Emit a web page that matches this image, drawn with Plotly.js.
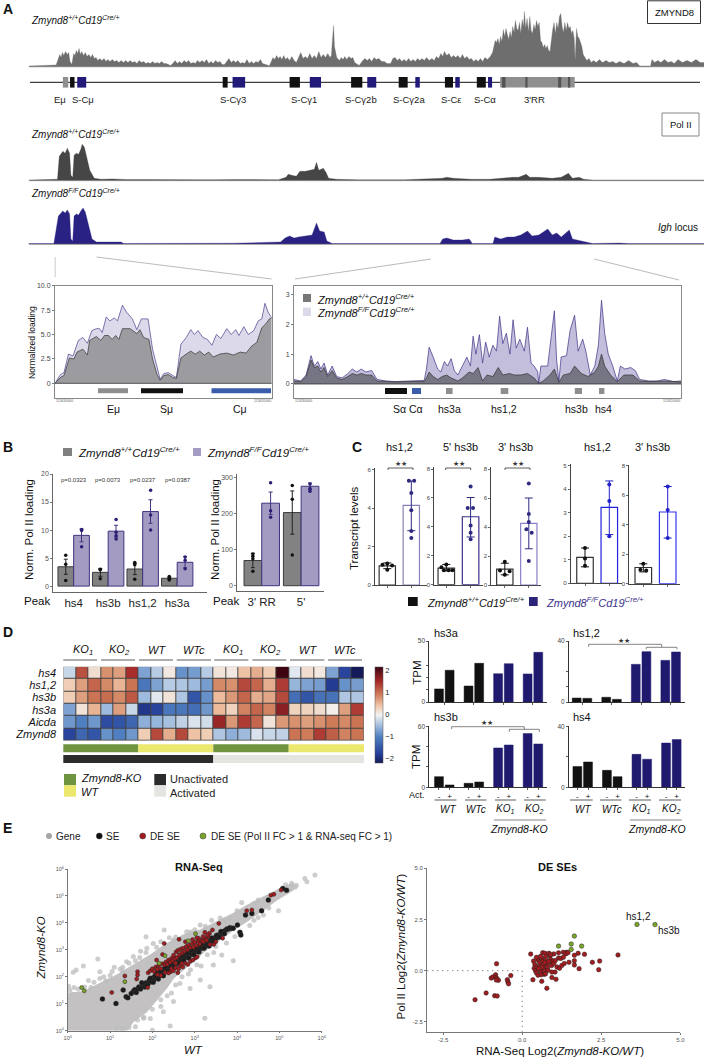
<!DOCTYPE html>
<html><head><meta charset="utf-8">
<script src="https://cdn.plot.ly/plotly-3.0.1.min.js"></script>
<style>html,body{margin:0;padding:0;background:#fff}#c{width:704px;height:1057px}</style>
</head><body><div id="c"></div>
<script>
// ---------- Panel A: browser tracks (position, height) ----------
const zmynd8Track=[[64,.5],[80,.8],[95,1],[110,1],[125,1.5],[130,8],[133,12],[136,9],[139,14],[142,11],[146,15],[150,12],[153,14],[156,5],[160,2],[164,13],[167,11],[170,16],[173,13],[176,18],[179,12],[182,15],[186,11],[190,14],[194,10],[198,12],[202,9],[206,12],[210,8],[214,9],[218,6],[222,8],[227,6],[232,8],[236,5],[240,7],[245,5],[250,7],[255,5],[260,6],[265,4],[270,6],[275,4],[280,6],[285,4],[290,6],[295,4],[300,5],[305,3],[310,6],[315,4],[320,5],[325,3],[330,4],[335,3],[340,5],[345,3],[350,4],[355,3],[360,5],[365,3],[370,3],[380,1],[385,3],[390,6],[395,3],[400,5],[405,3],[410,6],[415,4],[420,6],[425,3],[430,4],[435,3],[440,6],[445,4],[450,6],[455,4],[460,7],[465,3],[470,5],[475,3],[480,6],[485,4],[490,5],[495,2],[500,2],[505,5],[510,8],[515,4],[520,6],[525,4],[530,6],[535,3],[540,4],[545,3],[550,7],[555,3],[560,5],[565,3],[570,5],[575,4],[580,7],[585,3],[590,2],[600,.8],[608,9],[612,7],[616,11],[620,8],[624,10],[628,7],[632,11],[636,7],[640,9],[645,6],[650,10],[655,6],[660,4],[665,10],[670,14],[675,8],[680,10],[685,8],[690,13],[695,8],[700,11],[705,8],[710,15],[715,9],[720,12],[725,9],[730,13],[735,9],[738,11],[741,30],[743,41],[745,20],[750,9],[756,6],[760,9],[764,7],[768,10],[772,7],[777,10],[782,8],[786,9],[790,4],[800,1],[808,6],[813,8],[818,6],[823,8],[828,5],[833,9],[838,7],[844,8],[850,5],[856,5],[862,3],[870,3],[875,8],[880,9],[885,6],[890,8],[895,5],[900,7],[905,5],[910,8],[915,5],[920,7],[925,5],[930,8],[935,6],[940,8],[945,6],[950,9],[956,6],[962,8],[967,6],[972,10],[977,8],[982,13],[986,10],[990,15],[995,11],[1000,13],[1005,9],[1010,11],[1015,9],[1020,11],[1025,8],[1030,12],[1035,8],[1040,10],[1045,7],[1050,8],[1055,5],[1060,7],[1065,5],[1070,8],[1075,5],[1080,9],[1086,7],[1092,10],[1097,14],[1100,20],[1103,26],[1106,24],[1109,28],[1112,22],[1115,30],[1118,25],[1121,37],[1124,30],[1127,38],[1130,32],[1133,27],[1136,35],[1139,29],[1142,40],[1145,34],[1148,46],[1151,38],[1154,36],[1157,44],[1160,33],[1163,47],[1166,40],[1168,55],[1171,38],[1174,48],[1177,35],[1180,50],[1183,36],[1186,33],[1189,42],[1192,37],[1195,46],[1198,40],[1201,44],[1204,26],[1207,24],[1210,19],[1213,22],[1216,18],[1219,21],[1222,16],[1225,15],[1228,28],[1231,37],[1234,44],[1237,33],[1240,44],[1243,38],[1246,50],[1249,53],[1252,40],[1255,34],[1258,44],[1261,36],[1264,44],[1267,38],[1270,40],[1273,33],[1276,36],[1279,28],[1281,6],[1284,38],[1287,30],[1290,28],[1293,24],[1296,20],[1299,12],[1302,10],[1307,6],[1312,8],[1317,4],[1322,6],[1328,4],[1335,7],[1342,4],[1350,6],[1357,4],[1365,5],[1372,3],[1380,5],[1390,3],[1400,6],[1410,3],[1418,4],[1425,.6],[1449,.6],[1452,7],[1458,4],[1465,6],[1472,4],[1480,7],[1488,4],[1495,5],[1502,3],[1510,7],[1520,4],[1530,6],[1540,4],[1550,7],[1560,4],[1568,4]];
const polWtTrack=[[64,.3],[120,.3],[128,1],[132,24],[136,27],[140,29],[145,27],[150,32],[155,27],[158,5],[162,3],[165,25],[170,27],[175,26],[180,31],[183,36],[188,33],[193,22],[200,10],[210,2],[225,1],[250,1.4],[280,.8],[330,.7],[400,.4],[470,.6],[520,.8],[580,.6],[620,.6],[637,3],[642,6],[650,5],[660,4],[668,9],[680,9],[690,10],[700,11],[705,18],[710,10],[720,12],[726,8],[732,2],[750,1],[800,.5],[900,.5],[985,2],[995,3],[1010,2],[1050,1],[1090,1],[1110,2],[1140,3],[1155,3],[1172,6],[1180,3],[1200,3],[1230,2],[1250,3],[1266,7],[1275,2],[1290,3],[1300,1],[1320,.3],[1568,.3]];
const polKoTrack=[[64,.4],[120,.5],[130,28],[135,31],[140,33],[145,31],[150,34],[155,30],[158,5],[162,3],[165,28],[170,30],[175,29],[180,33],[185,36],[190,32],[197,20],[205,5],[215,2],[270,2],[275,.5],[330,.6],[430,.5],[520,.8],[625,2],[635,6],[645,8],[655,6],[665,7],[680,8],[695,9],[705,21],[712,13],[722,12],[728,3],[740,.5],[800,.4],[980,.5],[986,5],[995,6],[1010,4],[1030,4],[1045,5],[1052,.5],[1098,.5],[1102,7],[1115,5],[1130,7],[1145,7],[1160,9],[1175,13],[1185,8],[1200,9],[1220,15],[1230,9],[1240,11],[1250,7],[1268,14],[1275,5],[1285,4],[1300,2],[1320,.5],[1380,1],[1400,.4],[1568,.4]];
const geneBlack=[[156,166],[496,507],[645,668],[782,807],[888,908],[991,1009],[1062,1082]];
const geneBlue=[[172,192],[518,546],[690,715],[818,838],[925,935],[1014,1024],[1087,1096]];
const geneGrey=[[140,152],[1114,1280]];
const geneDark=[[1118,1126],[1170,1175],[1243,1250],[1265,1270]];
const geneLabels=['Eμ','S-Cμ','S-Cγ3','S-Cγ1','S-Cγ2b','S-Cγ2a','S-Cε','S-Cα',"3'RR"];
const geneLabelPos=[134,185,518,678,805,910,1005,1080,1190];
// zoomed Pol II profiles (position, normalized loading)
const euKo=[[123,0],[135,.9],[143,1.1],[153,3],[163,2.8],[175,4.4],[185,4.7],[195,4.1],[205,5.4],[215,5.6],[222,5.6],[228,5.2],[237,6.8],[245,6.4],[255,6.7],[262,6.4],[273,8],[282,7.3],[295,6.6],[305,5.5],[315,6.6],[330,6.6],[340,3.5],[350,1.5],[357,.4],[365,1],[375,1.1],[385,.8],[393,.6],[403,4],[415,4.7],[425,5.5],[433,5],[441,5.4],[452,4.7],[462,4.5],[472,3.9],[482,5],[492,4.6],[505,5.6],[515,5],[525,5.5],[532,4.9],[543,5.8],[553,5],[565,5.4],[575,6.4],[583,6.6],[590,8.2],[597,7.3],[605,6.7]];
const euWt=[[123,0],[135,.6],[143,.8],[155,2.6],[165,2.5],[172,3.2],[185,3.5],[195,2.9],[200,4.4],[215,4.8],[225,4.4],[233,4.9],[242,4.9],[250,4.5],[258,4.9],[265,4.5],[273,5.6],[290,5.6],[305,5.1],[312,5.5],[320,4.7],[332,4.5],[340,2.5],[350,.9],[357,.3],[365,.8],[375,.9],[385,.6],[393,.5],[403,2.6],[415,3],[425,3.3],[435,3],[445,3.3],[455,2.9],[465,3.2],[475,2.7],[490,3],[505,3.1],[520,2.9],[535,3.2],[548,3.1],[560,3.8],[572,4.2],[583,5.7],[592,6.1],[600,6.6],[605,6.7]];
const rrKo=[[655,.15],[670,.1],[682,.3],[688,.7],[693,.95],[700,.6],[708,.75],[715,.5],[722,.7],[730,.3],[740,.6],[750,.25],[762,.2],[775,.35],[785,.5],[795,.4],[805,.5],[815,.4],[828,.45],[840,.15],[860,.1],[880,.08],[900,.1],[920,.12],[945,.12],[950,.5],[956,1.23],[965,.9],[975,.5],[982,.4],[990,.75],[997,.6],[1005,.85],[1012,.45],[1020,.3],[1030,.6],[1040,.9],[1048,.6],[1054,1.6],[1060,1],[1068,1.65],[1075,.7],[1082,1.4],[1090,.9],[1098,1.3],[1106,1.1],[1113,2.27],[1120,1.35],[1128,1.7],[1136,1],[1143,2.15],[1150,1.2],[1158,1.5],[1168,1.1],[1175,1.9],[1183,.7],[1190,.6],[1198,.4],[1200,.02],[1205,.6],[1220,.6],[1228,1.6],[1235,2.45],[1240,.8],[1245,.1],[1250,.9],[1262,.95],[1270,1.8],[1280,2.3],[1288,1.1],[1298,1.5],[1305,1.1],[1315,.3],[1325,.6],[1333,1.3],[1340,2.8],[1347,1.7],[1355,1],[1365,.6],[1375,.1],[1382,.6],[1392,.5],[1405,.55],[1415,.45],[1425,.15],[1445,.1],[1465,.1],[1480,.15],[1500,.08],[1517,.1]];
const rrWt=[[655,.1],[670,.08],[682,.25],[688,.6],[693,.8],[700,.55],[708,.6],[715,.4],[722,.55],[730,.25],[740,.45],[750,.2],[762,.15],[775,.25],[785,.35],[795,.3],[805,.35],[815,.3],[828,.3],[840,.1],[860,.08],[880,.07],[900,.08],[920,.08],[945,.08],[950,.2],[956,.4],[965,.25],[975,.15],[985,.25],[995,.3],[1005,.2],[1020,.1],[1030,.2],[1045,.4],[1054,.35],[1065,.55],[1075,.1],[1085,.3],[1098,.25],[1110,.55],[1120,.3],[1135,.35],[1145,.3],[1160,.3],[1175,.35],[1190,.2],[1200,.02],[1210,.1],[1225,.3],[1235,.5],[1245,.05],[1255,.3],[1270,.35],[1280,.6],[1295,.35],[1310,.25],[1325,.4],[1333,.6],[1340,1],[1347,.6],[1360,.3],[1375,.08],[1390,.3],[1410,.3],[1425,.1],[1450,.08],[1480,.1],[1517,.07]];
// ---------- Panel B ----------
const bPeaks=['hs4','hs3b','hs1,2','hs3a'];
const bWt=[3.45,2.45,3.05,1.4], bWtErr=[1.35,.7,1,.2];
const bKo=[9.05,9.8,13.3,4.25], bKoErr=[1.15,1.05,2.1,1];
const bWtPts=[[0,5.5],[0,3.9],[0,1],[1,3],[1,2.9],[1,1.3],[2,4.2],[2,3.8],[2,1.2],[3,1.7],[3,1.4],[3,1.1]];
const bKoPts=[[0,10.1],[0,9.9],[0,7],[1,11.9],[1,9.6],[1,9],[1,8.4],[2,17.1],[2,12.7],[2,10],[3,5.2],[3,4.6],[3,3.1]];
const bP=['p=0.0323','p=0.0073','p=0.0237','p=0.0387'];
const b2Peaks=["3' RR","5'"];
const b2Wt=[70,203], b2WtErr=[20,60], b2Ko=[229,276], b2KoErr=[31,9];
const b2WtPts=[[0,88],[0,82],[0,75],[0,40],[1,278],[1,240],[1,85]];
const b2KoPts=[[0,286],[0,208],[0,190],[1,282],[1,270],[1,262]];
// ---------- Panel C: wt, err up/down, points, ko, err up/down, points ----------
const c1Wt=[1,.15,.15], c1WtPts=[[-.2,1.05],[0,1.12],[.2,1.02],[0,.8]];
const c1Ko=[4.15,1.27,1.32], c1KoPts=[[-.1,5.44],[.12,5.44],[0,4.8],[0,3.9],[0,2.82],[0,2.45]];
const c2Wt=[1.15,.25,.2], c2WtPts=[[0,1.4],[-.2,1.2],[-.1,1],[.1,1],[.25,1]];
const c2Ko=[4.7,1.33,1.4], c2KoPts=[[0,6.8],[-.12,5.3],[.1,5.3],[0,4.1],[0,3.6],[0,3.15]];
const c3Wt=[1.1,.4,.4], c3WtPts=[[0,1.6],[-.2,1],[.2,.95],[0,.7]];
const c3Ko=[4.25,1.75,1.75], c3KoPts=[[0,7],[0,4.9],[0,4.35],[-.1,3.85],[.12,3.6],[0,1.65]];
const c4Wt=[1.1,.4,.4], c4WtPts=[[0,1.5],[0,1.05],[0,.75]];
const c4Ko=[3.23,1.12,1.16], c4KoPts=[[0,4.2],[0,3.5],[0,2]];
const c5Wt=[1.1,.25,.3], c5WtPts=[[0,1.35],[-.12,.95],[.12,.9]];
const c5Ko=[4.87,1.73,1.77], c5KoPts=[[0,6.6],[0,5],[0,3.1]];
// ---------- Panel D ----------
const hmRows=['hs4','hs1,2','hs3b','hs3a','Aicda','Zmynd8'];
const hmZ=[
[-.25,1.25,.2,.8,.7,1.5,-.7,-.35,.1,-.85,-.75,-.35,.15,.1,.45,.6,.35,2.3,-.1,.2,.1,-.7,-1.7,-2.3],
[.35,.7,1.1,.85,.55,1,-1.1,-.7,-.35,-.4,-.5,-.75,.85,.8,1.3,1.1,.6,1.4,-.55,-.7,-.75,-1.8,-.85,-.75],
[.35,.7,1,1.05,.85,1.2,-.5,-.1,.15,-.4,-1.5,-.85,.5,.75,1.1,.6,.65,1.3,-1.2,-1.5,-1.15,-1.15,-.4,-.4],
[-.7,.15,.55,-.5,.7,-.25,-1.85,-1.7,-1.1,-1.1,-1.2,-.8,.5,.3,.9,1.1,.9,1.7,.3,.3,.2,.05,.7,1.4],
[-.8,-1,-.8,-1.6,-1.5,-1.3,-.6,-.55,-.45,-.3,-.15,-.2,1.6,.75,1.4,1.1,.15,.75,.8,.7,.8,.95,.85,1],
[-1.7,-1.3,-1.5,-.85,-1,-.8,.35,1.3,.6,1.3,.45,.35,-.4,-.6,-.5,-.15,-.25,-.3,1,.95,1.4,1.15,.9,1]];
const hmGroups=['KO<sub>1</sub>','KO<sub>2</sub>','WT','WTc','KO<sub>1</sub>','KO<sub>2</sub>','WT','WTc'];
const dGroups=['WT','WTc','KO<sub>1</sub>','KO<sub>2</sub>'];
const hs3aMinus=[10.7,13.1,23.2,23], hs3aPlus=[26,31.7,31.4,40.7];
const hs12Minus=[2.6,3.1,24.7,27.3], hs12Plus=[2.4,1.75,33,32.8];
const hs3bMinus=[10.5,3.9,38.7,52.8], hs3bPlus=[2.3,5.2,41.6,42.6];
const hs4Minus=[13.6,11.1,21.6,29], hs4Plus=[16.6,7,18.4,31.3];
// ---------- Panel E: log10 values ----------
const geneCloud=[[0,0],[0,1.39],[.37,1.45],[.76,1.76],[1.16,2.07],[1.55,2.44],[1.95,2.81],[2.34,3.24],[2.74,3.56],[3.13,3.74],[3.52,4.05],[3.92,4.36],[4.31,4.72],[4.7,5.03],[5.1,5.34],[5.33,5.47],[5.33,5.22],[4.94,4.85],[4.63,4.48],[4.23,4.05],[3.92,3.74],[3.6,3.37],[3.28,3],[2.97,2.57],[2.74,2.26],[2.5,1.95],[2.34,1.58],[2.1,1.14],[1.87,.7],[1.55,.33],[1.39,0]];
const genePts=[[5.84,5.78],[5.6,5.65],[5.65,5.53],[5.37,5.32],[5.29,5.47],[4.11,4.76],[4.98,4.45],[3.91,2.6],[2.28,3.74],[1.85,3.49],[1.55,2.75],[.71,2.66],[.37,2.4],[.2,2.25],[.13,2.17],[1.1,2.35],[1.24,2.29],[1.39,2.56],[.76,1.94],[.49,1.86],[3.24,.46],[2.42,.17],[2,.02],[1.16,.09],[3.36,1.63],[3.13,1.88],[2.5,1.08],[2.89,1.57],[2.26,.7],[1.79,.46],[3.64,2.81],[3.44,2.44],[4.62,4.29],[.76,2.19],[1.87,3.06],[2.02,3.24],[2.5,3.37],[2.81,3.67],[3.13,3.92],[3.83,4.17],[4.15,4.42],[1.6,2.6],[1.72,2.95],[1.3,2.2],[1,2.05],[.55,1.6],[.25,1.55],[.05,1.5],[.02,1.65],[.9,1.85],[2.4,3.45],[3,3.75],[3.4,4.1],[3.7,4.1],[4.4,4.72],[4.85,5.05],[5.15,5.42],[5.4,5.4],[4.75,4.55],[4.4,4.1],[4.05,3.65],[3.75,3.25],[3.45,2.9],[3.15,2.4],[2.85,2.1],[2.65,1.75],[2.45,1.4],[2.2,.9],[1.95,.45],[1.6,.15],[.15,1.6],[.4,1.62],[.62,1.8],[.85,2],[1.05,2.2],[1.3,2.35],[1.45,2.5],[1.7,2.72],[1.85,2.9],[2.1,3.1],[2.2,3.3],[2.55,3.48],[2.9,3.66],[3.25,3.88],[3.6,4.18],[4,4.45],[4.5,4.85],[3.5,3.12],[3.3,2.82],[3.05,2.45],[2.9,2.25],[2.7,2],[2.55,1.7],[2.35,1.3],[2.2,1.15],[2,.8],[1.8,.5],[1.65,.4],[1.45,.12],[1.3,.08],[4.5,4.2],[4.3,3.9],[3.95,3.5]];
const sePts=[[.82,1.18],[1.14,1.01],[1.31,1.51],[1.38,1.26],[1.42,1.22],[1.55,1.45],[1.5,1.38],[1.58,1.52],[1.62,1.42],[1.65,1.55],[1.68,1.62],[1.72,1.55],[1.78,1.7],[1.82,1.62],[1.85,1.78],[1.9,1.74],[1.93,1.88],[1.97,1.82],[2,1.95],[2.03,1.88],[2.06,2.03],[2.1,1.97],[2.12,2.1],[2.16,2.04],[2.18,2.18],[2.22,2.12],[2.25,2.26],[2.28,2.18],[2.3,2.32],[2.33,2.25],[2.36,2.38],[2.38,2.3],[2.4,2.44],[2.43,2.36],[2.46,2.5],[2.48,2.42],[2.5,2.55],[2.53,2.47],[2.56,2.6],[2.58,2.52],[2.6,2.65],[2.63,2.58],[2.66,2.7],[2.68,2.62],[2.7,2.76],[2.73,2.67],[2.76,2.8],[2.78,2.72],[2.8,2.84],[2.83,2.76],[2.86,2.9],[2.88,2.8],[2.9,2.94],[2.93,2.85],[2.96,2.98],[2.98,2.9],[3,3.02],[3.03,2.95],[3.06,3.06],[3.08,2.98],[3.1,3.12],[3.13,3.04],[3.16,3.14],[3.18,3.08],[3.2,3.2],[3.23,3.12],[3.26,3.24],[3.28,3.17],[3.3,3.28],[3.33,3.22],[3.36,3.33],[3.38,3.28],[3.4,3.38],[3.43,3.34],[3.46,3.43],[3.48,3.4],[3.5,3.48],[3.53,3.46],[3.56,3.54],[3.6,3.58],[3.64,3.62],[3.68,3.68],[3.72,3.72],[3.76,3.77],[3.8,3.77],[3.83,3.82],[3.87,3.8],[4.01,3.92],[3.91,3.8],[4.07,3.65],[4.09,3.55],[4.2,4.29],[4.35,4.35],[4.58,4.45],[4.74,4.85],[5.08,5.28],[5.17,5.21],[1.75,1.78],[1.87,1.68],[1.95,1.95],[2.02,1.8],[2.1,2.14],[2.14,1.92],[2.2,2.24],[2.26,2.04],[2.32,2.38],[2.38,2.2],[2.44,2.5],[2.5,2.34],[2.56,2.66],[2.62,2.48],[2.68,2.78],[2.74,2.6],[2.8,2.9],[2.86,2.7],[2.92,3],[2.98,2.82],[3.04,3.1],[3.1,2.92],[3.16,3.22],[3.22,3.06],[3.28,3.34],[3.34,3.14],[3.4,3.44],[3.46,3.32],[3.52,3.54],[3.58,3.48],[3.62,3.68],[3.7,3.6]];
const deSePts=[[1.04,1.42],[1.35,2.03],[1.65,2.19],[1.65,2.07],[1.63,1.92],[1.89,1.6],[2.28,3.24],[2.24,2.83],[2.1,2.62],[2.63,3.39],[3.57,3.98],[3.42,3.74],[3.24,3.65],[4.23,4.45],[4.35,4.48],[4.8,5.03],[4.87,5.06],[5.04,5.22],[3.66,3.43],[2.6,2.15],[2.43,2.19],[1.9,2.15],[1.95,2.22],[2,2.3],[2.04,2.2],[2.08,2.36],[2.12,2.28],[2.15,2.42],[2.2,2.3],[2.24,2.48],[2.28,2.44],[2.32,2.55],[2.35,2.46],[2.38,2.62],[2.42,2.54],[2.45,2.68],[2.48,2.6],[2.5,2.8],[2.53,2.66],[2.56,2.92],[2.58,2.72],[2.6,2.98],[2.64,2.82],[2.66,3.02],[2.7,2.88],[2.72,3.06],[2.76,2.95],[2.8,3.12],[2.83,3],[2.86,3.18],[2.9,3.08],[2.94,3.24],[2.97,3.1],[3,3.28],[3.04,3.16],[3.08,3.32],[3.12,3.22],[3.16,3.36],[3.2,3.3],[3.24,3.42],[3.28,3.36],[3.32,3.5],[3.1,3.42],[2.95,3.38],[2.3,2.16],[2.38,2.14],[2.45,2.3],[2.5,2.22],[2.55,2.34],[2.62,2.3],[2.66,2.42],[2.72,2.36],[2.78,2.5],[2.84,2.46],[2.9,2.58],[2.96,2.62],[3.02,2.7],[3.06,2.74],[2.7,2.5],[2.55,2.5],[2.2,2.05],[2.12,2.08],[3.36,3.2],[3.45,3.2],[3.5,3.3],[3.2,3.5],[3.35,3.62],[3.3,3.55],[3.05,3.45],[2.78,3.3]];
const deSeGreen=[[.33,1.6],[.39,1.48],[1.35,1.82],[2.16,2.5],[2.3,2.78],[2.85,3.34],[3.02,3.6]];
const dsRed=[[-1.49,-1.42],[-1.14,-1.09],[-.87,-1.22],[-.79,-1.24],[-.81,.34],[-.84,-.2],[-.98,-.36],[-.93,-.31],[-.84,-.33],[-.8,-.38],[-.75,-.47],[-.82,-.46],[-.47,-.44],[-.45,-.55],[-.43,-.64],[-.36,-.24],[.27,.81],[.34,-.44],[.62,-.52],[.78,-.86],[.94,-.33],[1.07,-.42],[1.04,-.07],[.94,-.07],[1.8,.1],[2.22,.41],[2.45,.47],[2.42,.05],[3.03,.77],[1.97,.8],[1.77,.85],[1.65,.75],[1.65,.49],[1.65,.28],[1.48,.41],[1.41,.9],[.36,.47],[.4,.3],[.38,.12],[.42,0],[.45,-.1],[.5,-.22],[.47,.18],[.5,.52],[.55,.4],[.55,.22],[.57,.05],[.6,-.05],[.6,-.2],[.63,.6],[.65,.45],[.66,.28],[.68,.12],[.7,-.02],[.7,-.18],[.65,.88],[.72,.85],[.75,.7],[.76,.5],[.78,.32],[.8,.18],[.82,.02],[.74,-.15],[.85,.85],[.88,.72],[.9,.55],[.92,.4],[.93,.25],[.97,.48],[1,.82],[1,.35],[1.05,.5],[1.1,.18],[1.15,.62],[1.15,.87],[1.18,.12],[1.22,.6],[1.25,.25],[1.3,.65],[1.3,.9],[1.33,.35],[1.38,.82],[1.45,.88],[.9,.78],[.58,.7],[.45,.65],[.62,.15],[.52,.1],[.72,.4],[.84,.45]];
const dsGreen=[[1.15,1.2],[1.55,1.3],[1.55,1.04],[1.88,1.2],[1.65,1.69],[3.63,2.26],[4.2,2.25]];

// ---------- helpers ----------
const W=704,H=1057,FONT='Liberation Sans, Arial, sans-serif';
const fx=v=>v/W, fy=v=>1-v/H;
const traces=[],shapes=[],annotations=[];
const layout={width:W,height:H,margin:{l:0,r:0,t:0,b:0,pad:0},paper_bgcolor:'#fff',plot_bgcolor:'rgba(0,0,0,0)',
  showlegend:false,barmode:'overlay',font:{family:FONT,color:'#111'},shapes,annotations};
let n=0;
function panel(x0,x1,yT,yB,xo,yo){n++;const s=n===1?'':n;
  const base={showgrid:false,zeroline:false,showline:true,linecolor:'#555',linewidth:1,ticks:'outside',ticklen:2,tickwidth:.8,tickcolor:'#555',tickfont:{size:6,color:'#555',family:FONT},fixedrange:true};
  layout['xaxis'+s]=Object.assign({},base,{domain:[fx(x0),fx(x1)],anchor:'y'+s},xo);
  layout['yaxis'+s]=Object.assign({},base,{domain:[fy(yB),fy(yT)],anchor:'x'+s},yo);
  return {x:'x'+s,y:'y'+s};}
function T(text,x,y,size,o={}){annotations.push({text,x:fx(x),y:fy(y),xref:'paper',yref:'paper',showarrow:false,
  xanchor:o.a||'left',yanchor:'middle',textangle:o.r||0,font:{size,color:o.c||'#111',family:FONT},borderpad:0});}
function R(x0,y0,x1,y1,fill,line,w){shapes.push({type:'rect',xref:'paper',yref:'paper',x0:fx(x0),x1:fx(x1),y0:fy(y0),y1:fy(y1),fillcolor:fill||'rgba(0,0,0,0)',line:{color:line||'rgba(0,0,0,0)',width:line?(w||1):0}});}
function L(x0,y0,x1,y1,c,w){shapes.push({type:'line',xref:'paper',yref:'paper',x0:fx(x0),x1:fx(x1),y0:fy(y0),y1:fy(y1),line:{color:c||'#333',width:w||1}});}
const X=a=>a.map(p=>p[0]), Y=a=>a.map(p=>p[1]);
const wtLabel='<i>Zmynd8<sup>+/+</sup>Cd19<sup>Cre/+</sup></i>', koLabel='<i>Zmynd8<sup>F/F</sup>Cd19<sup>Cre/+</sup></i>';
const HID={visible:false};

// ---------- Panel A ----------
T('<b>A</b>',2,9,14);
function track(data,yBase,color,maxH){const a=panel(0,W,yBase-maxH,yBase,Object.assign({range:[0,1568]},HID),Object.assign({range:[0,maxH]},HID));
  traces.push({type:'scatter',mode:'lines',x:X(data),y:Y(data),xaxis:a.x,yaxis:a.y,fill:'tozeroy',fillcolor:color,line:{color,width:.3}});return a;}
const t1=track(zmynd8Track,66.5,'#6e6e6e',60);
track(polWtTrack,180.3,'#464646',40);
track(polKoTrack,244,'#2a2282',40);
L(29,66.7,704,66.7,'#555',.8);L(29,180.6,704,180.6,'#555',.8);L(29,244.3,704,244.3,'#777',.8);
T(wtLabel,30,20,10);T(wtLabel,30,134,10);T(koLabel,30,193,10);
R(647.5,.8,700.5,23.5,'#fff','#333',1);T('ZMYND8',674,12,9.5,{a:'center'});
R(662,113,699,136,'#fff','#888',1);T('Pol II',680.5,125,9.5,{a:'center'});
T('<i>Igh</i> locus',699,227,10,{a:'right'});
L(30,82.3,700,82.3,'#111',1);
function gene(list,fill){list.forEach(g=>shapes.push({type:'rect',xref:t1.x,yref:'paper',x0:g[0],x1:g[1],y0:fy(77),y1:fy(87.6),fillcolor:fill,line:{width:0}}));}
gene(geneGrey,'#8f8f8f');gene(geneDark,'#555');gene(geneBlack,'#111');gene(geneBlue,'#221a78');
geneLabels.forEach((s,i)=>T(s,geneLabelPos[i]/2.227,99,9.5,{a:'center',c:'#222'}));
L(55.2,257,55.2,277,'#ccc',1);L(96.5,257,271.7,279,'#bbb',1);L(295,279,431,259,'#bbb',1);L(594,259,679,280,'#bbb',1);

// zoomed left
const zl=panel(55,271.7,285.7,398,{range:[123,605],showticklabels:false,ticks:'',mirror:true,linecolor:'#888'},
  {range:[-1.5,10],tickvals:[0,2.5,5,7.5,10],ticktext:['0','2.5','5.0','7.5','10.0'],tickfont:{size:7,color:'#444',family:FONT},mirror:true,linecolor:'#888'});
const zr=panel(294,681,285.7,398,{range:[655,1517],showticklabels:false,ticks:'',mirror:true,linecolor:'#888'},
  {range:[-.47,3.29],tickvals:[0,1,2,3],tickfont:{size:7,color:'#444',family:FONT},mirror:true,linecolor:'#888'});
traces.push({type:'scatter',mode:'lines',x:X(euKo),y:Y(euKo),xaxis:zl.x,yaxis:zl.y,fill:'tozeroy',fillcolor:'#dcdaea',line:{color:'#4a3f8f',width:.7}});
traces.push({type:'scatter',mode:'lines',x:X(euWt),y:Y(euWt),xaxis:zl.x,yaxis:zl.y,fill:'tozeroy',fillcolor:'#9c9ca0',line:{color:'#333',width:.7}});
traces.push({type:'scatter',mode:'lines',x:X(rrKo),y:Y(rrKo),xaxis:zr.x,yaxis:zr.y,fill:'tozeroy',fillcolor:'#c3bedb',line:{color:'#3d3286',width:.7}});
traces.push({type:'scatter',mode:'lines',x:X(rrWt),y:Y(rrWt),xaxis:zr.x,yaxis:zr.y,fill:'tozeroy',fillcolor:'rgba(105,105,115,.85)',line:{color:'#333',width:.7}});
L(55,383.3,271.7,383.3,'#333',.8);L(294,384,681,384,'#333',.8);
[[98,128,'#8e8e8e'],[141,183,'#111'],[211.5,271,'#3b5cab']].forEach(b=>R(b[0],388.2,b[1],393.2,b[2]));
[[385,407,'#111'],[412,421,'#3b5cab'],[446,452.6,'#8e8e8e'],[500.7,508.3,'#8e8e8e'],[574.8,582,'#8e8e8e'],[599,604.4,'#8e8e8e']].forEach(b=>R(b[0],388,b[1],394,b[2]));
[['Eμ',113.6],['Sμ',166],['Cμ',240],['Sα',399],['Cα',416],['hs3a',449],['hs1,2',504],['hs3b',576],['hs4',603]].forEach(a=>T(a[0],a[1],409,10.5,{a:'center'}));
T('113430000',55,401,3.5,{c:'#666'});T('113435000',271.7,401,3.5,{a:'right',c:'#666'});
T('113280000',294,401,3.5,{c:'#666'});T('113320000',681,401,3.5,{a:'right',c:'#666'});
T('Normalized loading',32,343,8.5,{a:'center',r:-90});
R(303,294,311,302,'#777');R(303,307.5,311,316,'#dcdaea');
T(wtLabel,316,299,11);T(koLabel,316,312,11);

// ---------- bars helper ----------
const GREYF='#828282',GREYL='#3c3c3c',PURF='#a49bc3',PURL='#40327f';
function bar(a,xs,ys,fill,line,off,wid,errUp,errDn,errC,lw,capW){const t={type:'bar',x:xs,y:ys,xaxis:a.x,yaxis:a.y,marker:{color:fill,line:{color:line,width:lw===undefined?1:lw}},offset:off,width:wid};
  if(errUp)t.error_y={type:'data',symmetric:false,array:errUp,arrayminus:errDn||errUp,color:errC,thickness:1,width:capW||2};traces.push(t);}
function pts(a,data,color,dx,size){traces.push({type:'scatter',mode:'markers',x:data.map(p=>p[0]+dx),y:Y(data),xaxis:a.x,yaxis:a.y,marker:{color,size:size||3.5,line:{width:0}}});}

// ---------- Panel B ----------
T('<b>B</b>',2,447,14);
R(63,448,72,456,'#808080');T(wtLabel,77,452,11.5);R(193,448,201,456,PURF);T(koLabel,206,452,11.5);
const yb={linecolor:'#666',tickfont:{size:7,color:'#555',family:FONT},ticklen:2};
const xb={linecolor:'#666',tickfont:{size:11.5,color:'#222',family:FONT},ticklen:0};
const b1=panel(53.3,206.7,474,591.7,Object.assign({},xb,{range:[-.59,3.855],tickvals:[0,1,2,3],ticktext:bPeaks}),Object.assign({},yb,{range:[-1,20],tickvals:[0,5,10,15,20]}));
bar(b1,[0,1,2,3],bWt,GREYF,GREYL,-.455,.455,bWtErr,null,'#222');
bar(b1,[0,1,2,3],bKo,PURF,PURL,0,.455,bKoErr,null,PURL);
pts(b1,bWtPts,'#111',-.23);pts(b1,bKoPts,'#2a1f75',.23);
bP.forEach((s,i)=>T(s,[74,108,143,178][i],479.7,6,{a:'center',c:'#333'}));
T('Norm. Pol II loading',29,530,11.5,{a:'center',r:-90});T('Peak',23,601,11.5);
const b2=panel(237.3,324,474,591.3,Object.assign({},xb,{range:[-.62,1.58],tickvals:[0,1],ticktext:b2Peaks}),Object.assign({},yb,{range:[-15.5,310],tickvals:[0,100,200,300]}));
bar(b2,[0,1],b2Wt,GREYF,GREYL,-.45,.45,b2WtErr,null,'#222');
bar(b2,[0,1],b2Ko,PURF,PURL,0,.45,b2KoErr,null,PURL);
pts(b2,b2WtPts,'#111',-.225);pts(b2,b2KoPts,'#2a1f75',.225);
T('Norm. Pol II loading',215,530,11.5,{a:'center',r:-90});T('Peak',212,601,11.5);

// ---------- Panel C ----------
T('<b>C</b>',351,447,14);
function cPanel(xAxis,xEnd,yTop,yBot,rng,ticks,c0,pitch,wt,wtP,ko,koP,koLine,koPt,titleX,title){
  const xr=[(xAxis-c0)/pitch,(xEnd-c0)/pitch];
  const a=panel(xAxis,xEnd,yTop,yBot,{range:xr,tickvals:[0,1],showticklabels:false,linecolor:'#444',tickcolor:'#444'},
    {range:rng,tickvals:ticks,tickfont:{size:6,color:'#444',family:FONT},linecolor:'#444',tickcolor:'#444'});
  bar(a,[0],[wt[0]],'#fff','#333',-.34,.68,[wt[1]],[wt[2]],'#111',1.2,4);
  bar(a,[1],[ko[0]],'#fff',koLine,-.34,.68,[ko[1]],[ko[2]],koPt,1.2,4);
  pts(a,wtP,'#111',0,4);pts(a,koP.map(p=>[p[0]+1,p[1]]),koPt,0,4);
  T(title,titleX,447,11,{a:'center'});}
cPanel(375,426.7,468,585,[0,6.1],[0,2,4,6],387.3,24,c1Wt,c1WtPts,c1Ko,c1KoPts,'#8a80b8','#2f2a80',399,'hs1,2');
cPanel(434.3,483,467,584.7,[0,8.14],[0,2,4,6,8],446.3,24.3,c2Wt,c2WtPts,c2Ko,c2KoPts,'#3b2f8a','#2f2a80',460.7,"5' hs3b");
cPanel(491.3,540.7,467,585,[0,8.14],[0,2,4,6,8],504.8,24,c3Wt,c3WtPts,c3Ko,c3KoPts,'#8a80c8','#2f2a80',515,"3' hs3b");
cPanel(570.7,621.7,464,583.3,[0,5.07],[0,1,2,3,4,5],585,24.3,c4Wt,c4WtPts,c4Ko,c4KoPts,'#2222dd','#2222cc',597,'hs1,2');
cPanel(629.3,680,465,583.7,[0,8.06],[0,2,4,6,8],643.3,24.4,c5Wt,c5WtPts,c5Ko,c5KoPts,'#3535ee','#2222cc',652.7,"3' hs3b");
[[388,413,401],[445.7,470.7,458.5],[505,530,518]].forEach(b=>{L(b[0],468,b[1],468,'#333',.8);L(b[0],468,b[0],470,'#333',.8);L(b[1],468,b[1],470,'#333',.8);T('★★',b[2],463,6.5,{a:'center',c:'#333'});});
T('Transcript levels',354,528,11.5,{a:'center',r:-90});
R(408,597,417.7,606,'#111');T(wtLabel,426,601.7,11);
R(529,597,537.7,606,'#2b2478');T(koLabel,545,601.7,11,{c:'#3b2f8a'});

// ---------- Panel D heatmap ----------
T('<b>D</b>',2,632,14);
const hm=panel(63.3,364,666.7,740.7,{range:[-.5,23.5],visible:false},
 {range:[5.5,-.5],tickvals:[0,1,2,3,4,5],ticktext:hmRows.map(s=>'<i>'+s+'</i>'),tickfont:{size:11,color:'#111',family:FONT},showline:false,ticks:'outside',ticklen:4,tickcolor:'rgba(0,0,0,0)'});
shapes.push({type:'rect',layer:'below',xref:hm.x,yref:hm.y,x0:-.5,x1:23.5,y0:-.5,y1:5.5,fillcolor:'#444',line:{color:'#999',width:1}});
traces.push({type:'heatmap',z:hmZ,xaxis:hm.x,yaxis:hm.y,zmin:-2.18,zmax:2.18,xgap:1,ygap:1,
 colorscale:[[0,'#141b58'],[.1,'#26409a'],[.27,'#4f7fc0'],[.38,'#9ab8dd'],[.5,'#f3f3f3'],[.6,'#efc4a6'],[.72,'#cd7a57'],[.85,'#a52a2a'],[1,'#3d0512']],
 colorbar:{x:fx(374.7),xanchor:'left',thickness:8,thicknessmode:'pixels',len:96/H,lenmode:'fraction',y:fy(714.7),yanchor:'middle',xpad:0,ypad:0,outlinewidth:.5,outlinecolor:'#555',
 tickvals:[-2,-1,0,1,2],ticktext:['−2','−1','0','1','2'],tickfont:{size:7.5,color:'#222',family:FONT},ticks:''}});
const hmSeg=[[190,291,250],[303,405,360],[417,519,472],[530,633,581],[643,745,700],[757,859,810],[870,973,924],[984,1086,1034]];
hmSeg.forEach((s,i)=>{L(s[0]/3,660,s[1]/3,660,'#333',.8);T('<i>'+hmGroups[i]+'</i>',s[2]/3,650,11,{a:'center'});});
const GRN='#6f9440',YEL='#ece86e';
R(63.3,744.3,138.3,752.3,GRN);R(138.3,744.3,213.3,752.3,YEL);R(213.3,744.3,288.7,752.3,GRN);R(288.7,744.3,364,752.3,YEL);
R(63.3,755,213.3,763,'#2b2b2b');R(213.3,755,364,763,'#e4e4e0');
R(64,774,76,785.3,GRN);R(64,785.3,76,796.7,YEL);R(154.3,774,166,785.3,'#2b2b2b');R(154.3,785.3,166,796.7,'#e4e4e0');
T('<i>Zmynd8-KO</i>',80,778.3,11);T('<i>WT</i>',80,791.7,11);T('Unactivated',169.3,779,11,{c:'#222'});T('Activated',169.3,793,11,{c:'#222'});

// ---------- Panel D TPM bars ----------
const BLK='#111',BLU='#1f1a6e';
function tpm(xAxis,xEnd,yTop,yBot,maxV,minorTicks,c0,minus,plus,bottom){
  const colors=[BLK,BLK,BLU,BLU];
  const tv=bottom?[0,1,2,3].flatMap(i=>[i-.18,i+.18]):[0,1,2,3];
  const tt=[0,1,2,3].flatMap(()=>['-','+']);
  const xAx={range:[(xAxis-c0)/29.55,(xEnd-c0)/29.55],tickvals:tv,tickfont:{size:8,color:'#111',family:FONT},linecolor:'#333',tickcolor:'#333',ticklen:1.5};
  if(bottom)xAx.ticktext=tt;else xAx.showticklabels=false;
  const a=panel(xAxis,xEnd,yTop,yBot,xAx,{range:[0,maxV],tickvals:[0,maxV],tickfont:{size:6.5,color:'#444',family:FONT},linecolor:'#333',tickcolor:'#333'});
  const b=panel(xAxis,xEnd,yTop,yBot,{range:[0,1],visible:false},{range:[0,maxV],tickvals:minorTicks,showticklabels:false,linecolor:'#333',tickcolor:'#333'});
  traces.push({type:'scatter',mode:'none',x:[0],y:[0],xaxis:b.x,yaxis:b.y,hoverinfo:'skip'});
  bar(a,[0,1,2,3],minus,colors,colors,-.33,.3,null,null,null,.5);
  bar(a,[0,1,2,3],plus,colors,colors,.03,.3,null,null,null,.5);}
tpm(429.3,546.7,641,702,50,[10,20,30],444.3,hs3aMinus,hs3aPlus,false);
tpm(569,685,641,702,40,[10,20],582,hs12Minus,hs12Plus,false);
tpm(429.3,546.7,726.3,787.3,60,[20,40],444.3,hs3bMinus,hs3bPlus,true);
tpm(569,685,726.3,787.3,40,[20],582.7,hs4Minus,hs4Plus,true);
T('hs3a',433,632.7,11);T('hs1,2',571.7,632.7,11);T('hs3b',433,716.7,11);T('hs4',571.7,716.7,11);
T('TPM',416.7,673,11.5,{a:'center',r:-90});T('TPM',416.7,757.3,11.5,{a:'center',r:-90});T('Act.',417,795,9,{a:'center'});
function bracket(x0,x1,y,dl,dr){L(x0,y,x1,y,'#666',.8);L(x0,y,x0,y+dl,'#666',.8);L(x1,y,x1,y+dr,'#666',.8);}
bracket(588.7,661.7,644.3,2.5,3);bracket(646.3,677,647.3,2,2);T('★★',624,640.7,6.5,{a:'center',c:'#333'});
bracket(451.7,524.3,726.7,2.5,3);bracket(509.3,539.3,729.3,2.5,2.5);T('★★',486.7,722.7,6.5,{a:'center',c:'#333'});
[[434.5,456.5,447.7],[465,486.5,476],[495,516,505],[524,545.7,534.3],[570,592.7,582.7],[600,621.5,612],[629,651,641.3],[659,681,671]].forEach((s,i)=>{L(s[0],800,s[1],800,'#333',.8);T('<i>'+dGroups[i%4]+'</i>',s[2],809,10,{a:'center'});});
L(494,820,546,820,'#666',.8);L(630,820,681.7,820,'#666',.8);
T('<i>Zmynd8-KO</i>',519.3,829.3,10.5,{a:'center'});T('<i>Zmynd8-KO</i>',656.7,829.3,10.5,{a:'center'});

// ---------- Panel E ----------
T('<b>E</b>',2,827.7,14);
const RED='#a31c1f',GN='#7ba52a';
const pg=panel(0,W,0,H,{range:[0,W],visible:false},{range:[H,0],visible:false});
function dot(x,y,c){traces.push({type:'scatter',mode:'markers',x:[x],y:[y],xaxis:pg.x,yaxis:pg.y,marker:{color:c,size:6,line:{color:'#333',width:c==='#a5a5a5'?0:.5}}});}
dot(49,836,'#a5a5a5');dot(99.3,836,'#111');dot(142.7,836,RED);dot(203,836,GN);
T('Gene',54.7,836,10,{c:'#222'});T('SE',105.3,836,10,{c:'#222'});T('DE SE',149,836,10,{c:'#222'});T('DE SE (Pol II FC > 1 & RNA-seq FC > 1)',210.3,836,10,{c:'#222'});
const logTicks=[0,1,2,3,4,5,6],logText=logTicks.map(v=>'10<sup>'+v+'</sup>');
const rna=panel(67.7,321.7,869,1030.7,{range:[0,6],tickvals:logTicks,ticktext:logText,tickfont:{size:5.5,color:'#555',family:FONT},linecolor:'#777',linewidth:1.2,ticklen:1.5},
  {range:[0,6],tickvals:logTicks,ticktext:logText,tickfont:{size:5.5,color:'#555',family:FONT},linecolor:'#777',linewidth:1.2,ticklen:1.5});
traces.push({type:'scatter',mode:'lines',x:X(geneCloud),y:Y(geneCloud),xaxis:rna.x,yaxis:rna.y,fill:'toself',fillcolor:'#c3c1c1',line:{color:'#c3c1c1',width:1}});
traces.push({type:'scatter',mode:'markers',x:X(genePts),y:Y(genePts),xaxis:rna.x,yaxis:rna.y,marker:{color:'rgba(190,188,188,.75)',size:5,line:{width:0}}});
traces.push({type:'scatter',mode:'markers',x:X(sePts),y:Y(sePts),xaxis:rna.x,yaxis:rna.y,marker:{color:'#1b1b1b',size:5,line:{color:'#444',width:.3}}});
traces.push({type:'scatter',mode:'markers',x:X(deSePts),y:Y(deSePts),xaxis:rna.x,yaxis:rna.y,marker:{color:RED,size:4,line:{color:'#222',width:.5}}});
traces.push({type:'scatter',mode:'markers',x:X(deSeGreen),y:Y(deSeGreen),xaxis:rna.x,yaxis:rna.y,marker:{color:GN,size:4,line:{color:'#222',width:.5}}});
T('<b>RNA-Seq</b>',199,866.7,11,{a:'center'});T('<i>WT</i>',193,1050,11.5,{a:'center'});T('<i>Zmynd8-KO</i>',40.7,947.7,11.5,{a:'center',r:-90});
const ds=panel(427.3,680.3,868.3,1031.7,{range:[-3,5],tickvals:[-2.5,0,2.5,5],ticktext:['-2.5','0.0','2.5','5.0'],tickfont:{size:6,color:'#555',family:FONT},linecolor:'#777',linewidth:1.2},
  {range:[-2.98,5],tickvals:[-2.5,0,2.5,5],ticktext:['-2.5','0.0','2.5','5.0'],tickfont:{size:6,color:'#555',family:FONT},linecolor:'#777',linewidth:1.2});
traces.push({type:'scatter',mode:'lines',x:[-3,0,0],y:[0,0,-3],xaxis:ds.x,yaxis:ds.y,line:{color:'#555',width:1,dash:'1px,4px'}});
traces.push({type:'scatter',mode:'markers',x:X(dsRed),y:Y(dsRed),xaxis:ds.x,yaxis:ds.y,marker:{color:RED,size:4.5,line:{color:'#222',width:.5}}});
traces.push({type:'scatter',mode:'markers',x:X(dsGreen),y:Y(dsGreen),xaxis:ds.x,yaxis:ds.y,marker:{color:GN,size:4.5,line:{color:'#222',width:.5}}});
T('<b>DE SEs</b>',557.3,866.7,11,{a:'center'});T('hs1,2',638.7,916,10,{a:'center'});T('hs3b',669.3,930.7,10,{a:'center'});
T('RNA-Seq Log2(<i>Zmynd8-KO/WT</i>)',560,1050.7,11.5,{a:'center'});T('Pol II Log2(<i>Zmynd8-KO/WT</i>)',400.7,946.7,11.5,{a:'center',r:-90});

Plotly.newPlot('c',traces,layout,{displayModeBar:false,staticPlot:true});
</script></body></html>
